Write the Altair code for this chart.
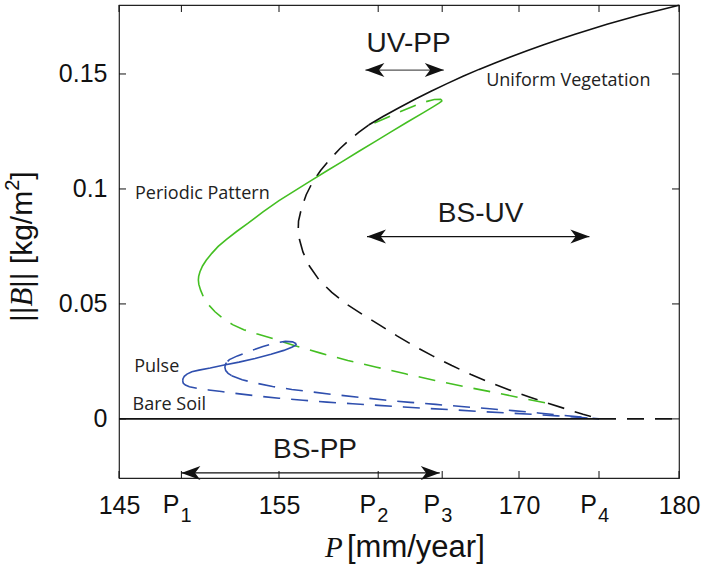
import altair as alt
import pandas as pd

# ---------------- bifurcation branches: P [mm/year] vs ||B|| [kg/m^2] ----------------
# uniform vegetation, stable part
uv_stable_P = [160.6, 161.5, 162.5, 163.5, 164.5, 165.5, 166.5, 167.5, 168.5, 169.5,
               170.5, 171.5, 172.5, 173.5, 174.5, 175.5, 176.5, 177.5, 178.5, 179.5, 180.0]
uv_stable_B = [0.1278, 0.1315, 0.1353, 0.1390, 0.1425, 0.1458, 0.1490, 0.1520, 0.1548, 0.1575,
               0.1601, 0.1626, 0.1650, 0.1673, 0.1695, 0.1716, 0.1736, 0.1755, 0.1773, 0.1790, 0.1799]
# uniform vegetation, unstable part (through the fold down to P4)
uv_unstable_P = [160.6, 160.0, 159.4, 158.8, 158.2, 157.6, 157.1, 156.7, 156.4, 156.22, 156.2,
                 156.28, 156.5, 156.9, 157.5, 158.3, 159.2, 160.2, 161.2, 162.4, 163.5, 164.6,
                 165.8, 167.0, 168.2, 169.4, 170.6, 171.8, 173.0, 174.0, 175.0]
uv_unstable_B = [0.1278, 0.1247, 0.1213, 0.1175, 0.1130, 0.1080, 0.1030, 0.0975, 0.0915, 0.0860, 0.0820,
                 0.0780, 0.0725, 0.0665, 0.0605, 0.0550, 0.0500, 0.0455, 0.0412, 0.0360, 0.0315, 0.0274,
                 0.0232, 0.0193, 0.0158, 0.0126, 0.0096, 0.0068, 0.0042, 0.0020, 0.0]
# bare soil
bs_stable_P = [145.0, 175.0]
bs_stable_B = [0.0, 0.0]
bs_unstable_P = [175.0, 180.0]
bs_unstable_B = [0.0, 0.0]
# periodic pattern
pp_stable_P = [149.96, 149.98, 150.06, 150.22, 150.45, 150.8, 151.2, 151.7, 152.35, 153.05,
               154.0, 155.0, 156.0, 157.0, 158.0, 159.0, 160.0, 161.0, 162.0, 163.0, 164.0,
               164.6, 165.0, 165.2]
pp_stable_B = [0.0604, 0.0620, 0.0640, 0.0665, 0.0690, 0.0720, 0.0750, 0.0780, 0.0815, 0.0850,
               0.0900, 0.0949, 0.0993, 0.1036, 0.1079, 0.1121, 0.1164, 0.1206, 0.1248, 0.1290, 0.1331,
               0.1356, 0.1373, 0.1383]
pp_top_P = [165.2, 165.1, 164.7, 164.1, 163.4, 162.6, 161.8, 161.0, 160.6]
pp_top_B = [0.1383, 0.1390, 0.1389, 0.1378, 0.1360, 0.1337, 0.1312, 0.1288, 0.1278]
pp_low_P = [149.96, 149.99, 150.1, 150.3, 150.6, 151.0, 151.5, 152.1, 152.8, 153.6, 154.5,
            156.0, 157.6, 159.3, 161.1, 162.9, 164.75, 166.6, 168.4, 170.2, 172.0]
pp_low_B = [0.0604, 0.0585, 0.0560, 0.0527, 0.0496, 0.0466, 0.0437, 0.0410, 0.0388, 0.0370, 0.0352,
            0.0318, 0.0286, 0.0254, 0.0225, 0.0196, 0.0167, 0.0140, 0.0116, 0.0090, 0.0065]
# pulse
pulse_stable_P = [148.98, 149.0, 149.08, 149.25, 149.55, 150.0, 150.7, 151.5, 152.5, 153.5,
                  154.5, 155.3, 155.8, 156.05, 156.08]
pulse_stable_B = [0.0165, 0.0175, 0.0185, 0.0195, 0.0205, 0.0212, 0.0221, 0.0233, 0.0247, 0.0263,
                  0.0281, 0.0298, 0.0312, 0.0321, 0.0327]
pulse_top_P = [156.08, 155.85, 155.4, 154.8, 154.0, 153.2, 152.4, 151.9, 151.72]
pulse_top_B = [0.0327, 0.0335, 0.0337, 0.0331, 0.0315, 0.0295, 0.0274, 0.0258, 0.0245]
pulse_small_P = [151.72, 151.64, 151.62, 151.67, 151.82, 152.04]
pulse_small_B = [0.0245, 0.0236, 0.0224, 0.0210, 0.0198, 0.0188]
pulse_mid_P = [152.04, 152.7, 153.6, 154.6, 155.8, 157.0, 158.4, 160.0, 161.6, 163.2, 164.8,
               166.4, 168.0, 169.6, 171.2, 172.8, 174.0, 175.0]
pulse_mid_B = [0.0188, 0.0170, 0.0155, 0.0141, 0.0128, 0.0118, 0.0106, 0.0094, 0.0082, 0.0072, 0.0063,
               0.0054, 0.0045, 0.0036, 0.0026, 0.0015, 0.0007, 0.0]
pulse_low_P = [148.98, 149.02, 149.15, 149.4, 149.9, 150.6, 151.4, 152.4, 153.6, 155.0, 156.5,
               158.0, 159.6, 161.2, 162.8, 164.4, 166.0, 167.6, 169.2, 170.8, 172.4, 173.7, 175.0]
pulse_low_B = [0.0165, 0.0155, 0.0147, 0.0140, 0.0133, 0.0126, 0.0119, 0.0110, 0.0100, 0.0090, 0.0081,
               0.0073, 0.0066, 0.0059, 0.0052, 0.0045, 0.0039, 0.0032, 0.0026, 0.0020, 0.0013, 0.0007, 0.0]

# axis ticks
P1, P2, P3, P4 = 148.9, 161.2, 165.2, 175.0
x_ticks = [145, P1, 155, P2, P3, 170, P4, 180]
x_num_ticks = [145, 155, 170, 180]
p_tick_values = [P1, P2, P3, P4]
p_tick_subs = ["1", "2", "3", "4"]
y_ticks = [0, 0.05, 0.1, 0.15]

# range arrows and their labels
arrow_label = ["UV-PP", "BS-UV", "BS-PP"]
arrow_from = [160.4, 160.5, 148.9]
arrow_to = [165.3, 174.4, 165.05]
arrow_at = [0.1517, 0.0793, -0.0235]
arrow_text_P = [163.1, 167.6, 157.25]
arrow_text_B = [0.1632, 0.0893, -0.0135]

# branch names
branch_text = ["Uniform Vegetation", "Periodic Pattern", "Pulse", "Bare Soil"]
branch_text_P = [167.95, 146.0, 145.95, 145.85]
branch_text_B = [0.1470, 0.0980, 0.0226, 0.0061]

# ---------------- tables ----------------
segments = [
    ("uv_stable", "uv", "solid", uv_stable_P, uv_stable_B),
    ("uv_unstable", "uv", "dashed", uv_unstable_P, uv_unstable_B),
    ("pp_stable", "pp", "solid", pp_stable_P, pp_stable_B),
    ("pp_top", "pp", "dashed", pp_top_P, pp_top_B),
    ("pp_low", "pp", "dashed", pp_low_P, pp_low_B),
    ("pulse_stable", "pulse", "solid", pulse_stable_P, pulse_stable_B),
    ("pulse_top", "pulse", "dashed", pulse_top_P, pulse_top_B),
    ("pulse_small", "pulse", "solid", pulse_small_P, pulse_small_B),
    ("pulse_mid", "pulse", "dashed", pulse_mid_P, pulse_mid_B),
    ("pulse_low", "pulse", "dashed", pulse_low_P, pulse_low_B),
    ("bs_unstable", "uv", "dashed", bs_unstable_P, bs_unstable_B),
    ("bs_stable", "uv", "solid", bs_stable_P, bs_stable_B),
]
rows = []
for name, family, kind, ps, bs in segments:
    for i, (p, b) in enumerate(zip(ps, bs)):
        rows.append({"seg": name, "family": family, "kind": kind, "i": i, "P": p, "B": b})
curves = pd.DataFrame(rows)

arrows = pd.DataFrame({"label": arrow_label, "p0": arrow_from, "p1": arrow_to, "b": arrow_at,
                       "tp": arrow_text_P, "tb": arrow_text_B})
names = pd.DataFrame({"text": branch_text, "P": branch_text_P, "B": branch_text_B})
xt = pd.DataFrame({"P": x_ticks})
yt = pd.DataFrame({"B": y_ticks})
pt = pd.DataFrame({"P": p_tick_values, "sub": p_tick_subs})

# ---------------- styling ----------------
W, H = 560, 473
SANS = "Liberation Sans, Arial, Helvetica, sans-serif"
SERIF = "Liberation Serif, Times New Roman, serif"
NOTE = "Open Sans, Noto Sans, sans-serif"
INK = "#111111"
GREEN = "#44bf22"
BLUE = "#2f4fae"
DASH = [17, 11]
HEAD_R = "M0,0L-1,-0.37L-0.72,0L-1,0.37Z"
HEAD_L = "M0,0L1,-0.37L0.72,0L1,0.37Z"

xscale = alt.Scale(domain=[145, 180], nice=False, zero=False)
yscale = alt.Scale(domain=[-0.0257, 0.18], nice=False, zero=False)
xaxis = alt.Axis(values=x_num_ticks, format="d", ticks=False, tickSize=0, domain=False, grid=False,
                 labelFont=SANS, labelFontSize=25, labelColor=INK, labelPadding=27,
                 labelBaseline="middle", labelFlush=False, labelOverlap=False, title=None)
yaxis = alt.Axis(values=y_ticks, format="~g", ticks=False, tickSize=0, domain=False, grid=False,
                 labelFont=SANS, labelFontSize=25, labelColor=INK, labelPadding=12,
                 labelFlush=False, labelOverlap=False, title=None)


def X(field):
    return alt.X(field, type="quantitative", scale=xscale, axis=xaxis)


def Y(field):
    return alt.Y(field, type="quantitative", scale=yscale, axis=yaxis)


color = alt.Color("family:N", scale=alt.Scale(domain=["uv", "pp", "pulse"], range=[INK, GREEN, BLUE]),
                  legend=None)

solid = alt.Chart(curves).transform_filter(alt.datum.kind == "solid").mark_line(
    strokeWidth=1.6, interpolate="monotone" if False else "linear").encode(
    x=X("P"), y=Y("B"), color=color, detail="seg:N", order="i:Q")
dashed = alt.Chart(curves).transform_filter(alt.datum.kind == "dashed").mark_line(
    strokeWidth=1.6, strokeDash=DASH).encode(x=X("P"), y=Y("B"), color=color, detail="seg:N", order="i:Q")

# inward ticks on all four sides
tick_bottom = alt.Chart(xt).mark_rule(color=INK, strokeWidth=1).encode(
    x=X("P"), y=alt.value(H), y2=alt.value(H - 7))
tick_top = alt.Chart(xt).mark_rule(color=INK, strokeWidth=1).encode(
    x=X("P"), y=alt.value(0), y2=alt.value(7))
tick_left = alt.Chart(yt).mark_rule(color=INK, strokeWidth=1).encode(
    y=Y("B"), x=alt.value(0), x2=alt.value(7))
tick_right = alt.Chart(yt).mark_rule(color=INK, strokeWidth=1).encode(
    y=Y("B"), x=alt.value(W), x2=alt.value(W - 7))

# P_i tick labels
p_main = alt.Chart(pt).mark_text(text="P", font=SANS, fontSize=25, color=INK, align="right",
                                 baseline="middle", dx=-2).encode(x=X("P"), y=alt.value(H + 27))
p_sub = alt.Chart(pt).mark_text(font=SANS, fontSize=20, color=INK, align="left",
                                baseline="middle", dx=-1).encode(x=X("P"), y=alt.value(H + 38), text="sub:N")

# arrows
shaft = alt.Chart(arrows).mark_rule(strokeWidth=1.2).encode(
    x=X("p0"), x2="p1", y=Y("b"),
    color=alt.condition(alt.datum.label == "UV-PP", alt.value("#555555"), alt.value(INK)))
head_l = alt.Chart(arrows).mark_point(shape=HEAD_L, size=1444, filled=True, opacity=1,
                                       color=INK, strokeWidth=0).encode(x=X("p0"), y=Y("b"))
head_r = alt.Chart(arrows).mark_point(shape=HEAD_R, size=1444, filled=True, opacity=1,
                                       color=INK, strokeWidth=0).encode(x=X("p1"), y=Y("b"))
arrow_text = alt.Chart(arrows).mark_text(font=SANS, fontSize=28, color="#1a1a1a", align="center",
                                         baseline="middle").encode(x=X("tp"), y=Y("tb"), text="label:N")

# branch names
name_text = alt.Chart(names).mark_text(font=NOTE, fontSize=18, color="#222222", align="left",
                                       baseline="middle").encode(x=X("P"), y=Y("B"), text="text:N")

one = pd.DataFrame({"k": [0]})


def piece(txt, x, y, font, size, style="normal", angle=0):
    return alt.Chart(one).mark_text(text=txt, font=font, fontSize=size, fontStyle=style, color=INK,
                                    align="left", baseline="middle", angle=angle).encode(
        x=alt.value(x), y=alt.value(y))


# axis titles built from pieces so the symbols can be italic
TX = -96
y_title = [
    piece("||", TX, 317, SANS, 30, angle=270),
    piece("B", TX, 301.4, SERIF, 31, "italic", angle=270),
    piece("|| [kg/m", TX, 283.1, SANS, 30, angle=270),
    piece("2", TX - 10, 185.8, SANS, 20, angle=270),
    piece("]", TX, 174.7, SANS, 30, angle=270),
]
x_title = [
    piece("P", 206, 543, SERIF, 29, "italic"),
    piece("[mm/year]", 228, 543, SANS, 31),
]

chart = alt.layer(
    tick_bottom, tick_top, tick_left, tick_right,
    dashed, solid,
    shaft, head_l, head_r, arrow_text, name_text,
    p_main, p_sub, *y_title, *x_title,
).properties(
    width=W, height=H,
    autosize=alt.AutoSizeParams(type="none"),
    padding={"left": 119, "top": 5, "right": 22, "bottom": 90},
    background="white",
).configure_view(stroke="#222222", strokeWidth=1.2)

chart.save("out.html", embed_options={"renderer": "svg", "actions": False})
